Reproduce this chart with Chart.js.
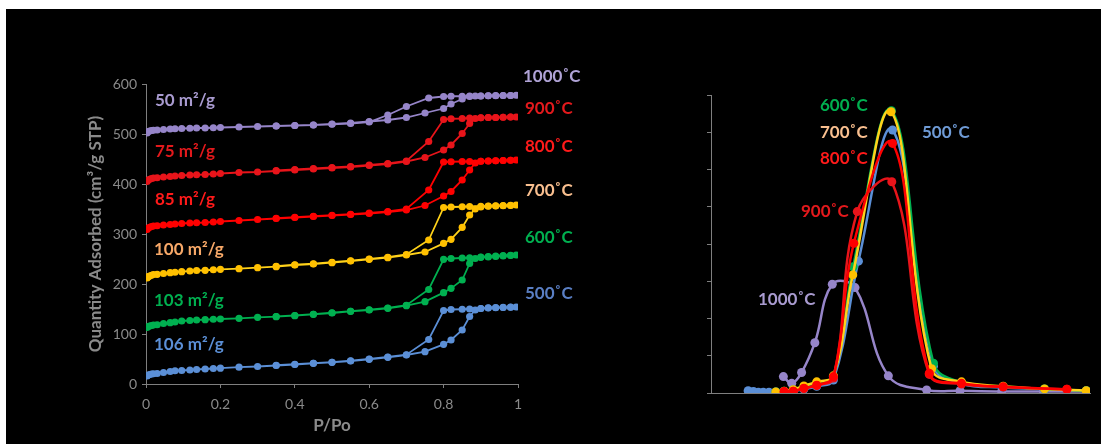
<!DOCTYPE html>
<html><head><meta charset="utf-8">
<script src="https://cdn.jsdelivr.net/npm/chart.js@4.4.1/dist/chart.umd.min.js"></script>
<style>
html,body{margin:0;padding:0;background:#fff;width:1102px;height:444px;overflow:hidden;position:relative;}
#bg{position:absolute;left:6px;top:9px;width:1095px;height:435px;background:#000;}
canvas{position:absolute;top:0;}
#c1{left:0;} #c2{left:600px;}
.lb{position:absolute;font-family:Lato,sans-serif;font-weight:bold;font-size:17px;line-height:20px;white-space:nowrap;}
</style></head>
<body>
<div id="bg"></div>
<canvas id="c1" width="600" height="444"></canvas>
<canvas id="c2" width="502" height="444"></canvas>

<div class="lb" style="left:155px;top:90px;color:#a99bd0">50 m²/g</div>
<div class="lb" style="left:155px;top:141px;color:#e3191c">75 m²/g</div>
<div class="lb" style="left:155px;top:189px;color:#ff1a1a">85 m²/g</div>
<div class="lb" style="left:154px;top:239px;color:#f7a868">100 m²/g</div>
<div class="lb" style="left:154px;top:290px;color:#00b050">103 m²/g</div>
<div class="lb" style="left:154px;top:334px;color:#5b8fd6">106 m²/g</div>

<div class="lb" style="left:523px;top:66px;color:#b0a3d6">1000˚C</div>
<div class="lb" style="left:525px;top:98px;color:#e3191c">900˚C</div>
<div class="lb" style="left:525px;top:136px;color:#ff1a1a">800˚C</div>
<div class="lb" style="left:525px;top:180px;color:#f9bf8f">700˚C</div>
<div class="lb" style="left:525px;top:227px;color:#00b050">600˚C</div>
<div class="lb" style="left:525px;top:283px;color:#5a7fc4">500˚C</div>

<div class="lb" style="left:820px;top:95px;color:#00b050">600˚C</div>
<div class="lb" style="left:820px;top:122px;color:#f9bf8f">700˚C</div>
<div class="lb" style="left:820px;top:148px;color:#ff1a1a">800˚C</div>
<div class="lb" style="left:922px;top:122px;color:#6f9bd6">500˚C</div>
<div class="lb" style="left:801px;top:201px;color:#e3191c">900˚C</div>
<div class="lb" style="left:758px;top:289px;color:#a99bd0">1000˚C</div>

<script>
// ---------- Isotherms (left) ----------
const P_ADS = [0.003, 0.006, 0.01, 0.015, 0.02, 0.03, 0.047, 0.065, 0.078, 0.096, 0.118, 0.136, 0.159, 0.181, 0.2, 0.25, 0.3, 0.35, 0.4, 0.45, 0.5, 0.55, 0.6, 0.65, 0.7, 0.75, 0.8, 0.82, 0.85, 0.87, 0.885, 0.9, 0.92, 0.94, 0.96, 0.98, 0.995];
const P_DES = [0.98, 0.96, 0.94, 0.92, 0.9, 0.87, 0.85, 0.82, 0.8, 0.76, 0.7, 0.65, 0.6, 0.55, 0.5, 0.45, 0.4, 0.35];

const Q_500_ADS = [16, 18, 19, 20, 20.5, 21, 23, 25, 26.5, 27, 28, 29, 30, 31, 31.7, 33.6, 35, 37, 39, 41.3, 43.3, 46, 49.3, 53.3, 58, 64.7, 79.3, 88, 108, 135, 148, 151, 152.5, 153, 153.3, 153.6, 154];
const Q_500_DES = [153.5, 153, 152.5, 152, 151, 150, 149.5, 149, 147, 89, 58.5, 54, 50, 46.5, 43.5, 41.5, 39.5, 37.5];
const Q_600_ADS = [113, 115, 116, 117, 118, 118.5, 121, 122.7, 124, 126, 127, 128, 128.7, 129.5, 130, 131.3, 133.3, 134.7, 136.7, 139.3, 142, 145.3, 148, 151.3, 156.7, 164.7, 182.7, 191.3, 208, 241, 251, 253.3, 254, 255, 256, 257, 258];
const Q_600_DES = [257.5, 257, 256, 255, 254, 252.5, 252, 251, 249.3, 189, 157.5, 152, 148.5, 145.5, 142.5, 139.5, 137, 135];
const Q_700_ADS = [212, 214.7, 216, 217.5, 219, 219.3, 221, 222.7, 223.5, 224.7, 226, 227, 227.3, 228.5, 229.3, 230.7, 232.7, 234.7, 238, 240, 242.7, 246, 249.3, 252.7, 258, 264, 281.3, 289.3, 313.3, 338, 350, 354, 355.5, 356, 356.5, 357, 358];
const Q_700_DES = [357.5, 357, 356.5, 356, 355.5, 355, 354.5, 354, 353, 288, 259, 253.5, 250, 246.5, 243.5, 240.5, 238.5, 235.5];
const Q_800_ADS = [309, 312, 313.5, 315, 316, 316.5, 318, 319, 320, 321, 322, 322.5, 323, 324, 325, 327, 329, 331, 333, 335, 337, 339, 341, 344, 348, 357, 376, 385, 408, 428, 442, 445.5, 446, 446.5, 447, 447.5, 448];
const Q_800_DES = [447.5, 447, 446.5, 446, 445.5, 445, 445, 444.5, 444, 388, 350, 345, 342, 339.5, 337.5, 335.5, 333.5, 331.5];
const Q_900_ADS = [405, 408, 409.5, 411, 412, 412.5, 414, 415, 416, 417, 418, 418.5, 419, 420, 421, 423, 424, 426, 428, 430, 432, 434, 437, 440, 445, 453, 468, 478, 501, 521, 531, 532.5, 533, 533, 533.5, 534, 534];
const Q_900_DES = [534, 533.5, 533, 533, 532.5, 532, 531, 530.5, 529, 485, 446, 441, 438, 435, 433, 431, 429, 427];
const Q_1000_ADS = [502, 505, 506, 507, 507.5, 508, 509, 510, 510.5, 511, 511.5, 512, 512, 512.5, 513, 514, 515, 516, 517, 518, 520, 522, 525, 528, 533, 542, 551, 560, 570, 575, 576, 576, 576.5, 577, 577, 577, 577.5];
const Q_1000_DES = [577, 577, 576.5, 576.5, 576, 576, 575.5, 575.5, 575, 572, 555, 538, 524, 521, 519.5, 518, 517, 516];

const X_TICKS = ['0', '0.2', '0.4', '0.6', '0.8', '1'];
const Y_TICKS = ['0', '100', '200', '300', '400', '500', '600'];

// ---------- Pore size distribution (right) ----------
const X_500 = [9.8, 11.2, 12.5, 13.8, 15.3, 17.1, 19.3, 21.7, 24.5, 27.9, 32.3, 38.9, 47.9, 58.7, 66.1, 77.1, 88.0, 99.0];
const Y_500 = [0.06, 0.04, 0.02, 0.02, 0.02, 0.03, 0.04, 0.05, 0.10, 0.18, 0.35, 3.54, 7.06, 0.72, 0.25, 0.15, 0.10, 0.06];
const X_600 = [17.1, 19.3, 21.7, 24.5, 27.9, 32.3, 37.5, 47.6, 58.7, 66.1, 77.1, 88.0, 99.0];
const Y_600 = [0.03, 0.05, 0.08, 0.17, 0.27, 0.45, 3.39, 7.58, 0.80, 0.28, 0.17, 0.11, 0.06];
const X_700 = [17.1, 19.3, 21.7, 24.5, 27.9, 32.3, 37.4, 47.5, 58.2, 66.1, 77.1, 88.0, 99.0];
const Y_700 = [0.03, 0.05, 0.09, 0.19, 0.30, 0.46, 3.17, 7.55, 0.65, 0.30, 0.18, 0.11, 0.06];
const X_800 = [19.3, 21.7, 24.5, 27.9, 32.3, 37.7, 47.9, 57.6, 66.1, 77.1, 93.9];
const Y_800 = [0.04, 0.05, 0.13, 0.21, 0.44, 4.02, 6.70, 0.53, 0.26, 0.17, 0.10];
const X_900 = [19.3, 21.7, 24.5, 27.9, 32.3, 38.6, 47.7, 57.6, 66.1, 77.1, 93.9];
const Y_900 = [0.04, 0.05, 0.12, 0.20, 0.40, 4.87, 5.67, 0.50, 0.24, 0.16, 0.10];
const X_1000 = [19.1, 21.3, 23.9, 27.4, 32.0, 38.0, 46.8, 56.9, 65.7, 76.7, 87.7, 99.1];
const Y_1000 = [0.44, 0.26, 0.55, 1.35, 2.92, 2.83, 0.46, 0.08, 0.06, 0.04, 0.04, 0.04];

// ---------- styles ----------
const COL = {
  c500: '#5b8fd6', c600: '#00b050', c700: '#ffc000', c700line: '#ffd21a',
  c800: '#ff0000', c900: '#e8141a', c1000: '#9685c9'
};
const AXIS_GRAY = '#7f7f7f';
const TEXT_GRAY = '#8a8a8a';

function loop(pa, qa, pd, qd) {
  return pa.map((p, i) => ({x: p, y: qa[i]})).concat(pd.map((p, i) => ({x: p, y: qd[i]})));
}
function xy(xs, ys) { return xs.map((x, i) => ({x: x, y: ys[i]})); }

function isoDs(data, color, line) {
  return {data, showLine: true, borderColor: line || color, backgroundColor: color,
    pointBackgroundColor: color, pointBorderColor: color, pointRadius: 3.6, pointBorderWidth: 0,
    borderWidth: 1.8, tension: 0};
}
function psdDs(data, color, line) {
  return {data, showLine: true, borderColor: line || color, backgroundColor: color,
    pointBackgroundColor: color, pointBorderColor: color, pointRadius: 4.5, pointBorderWidth: 0,
    borderWidth: 2.5, tension: 0.4, cubicInterpolationMode: 'default'};
}

Chart.defaults.font.family = 'Lato, sans-serif';

new Chart(document.getElementById('c1'), {
  type: 'scatter',
  data: {datasets: [
    isoDs(loop(P_ADS, Q_500_ADS, P_DES, Q_500_DES), COL.c500),
    isoDs(loop(P_ADS, Q_600_ADS, P_DES, Q_600_DES), COL.c600),
    isoDs(loop(P_ADS, Q_700_ADS, P_DES, Q_700_DES), COL.c700, COL.c700line),
    isoDs(loop(P_ADS, Q_800_ADS, P_DES, Q_800_DES), COL.c800),
    isoDs(loop(P_ADS, Q_900_ADS, P_DES, Q_900_DES), COL.c900),
    isoDs(loop(P_ADS, Q_1000_ADS, P_DES, Q_1000_DES), COL.c1000)
  ]},
  options: {
    responsive: false, animation: false, devicePixelRatio: 1,
    layout: {padding: {left: 0, right: 82, top: 84, bottom: 0}},
    plugins: {legend: {display: false}, tooltip: {enabled: false}},
    scales: {
      x: {type: 'linear', min: 0, max: 1,
        ticks: {stepSize: 0.2, color: TEXT_GRAY, font: {size: 14}, padding: 8, maxRotation: 0,
          callback: (v, i) => X_TICKS[i]},
        grid: {drawOnChartArea: false, drawTicks: true, tickLength: 4, color: AXIS_GRAY},
        border: {display: true, color: AXIS_GRAY, width: 1},
        title: {display: true, text: 'P/Po', color: TEXT_GRAY, font: {size: 17, weight: 'bold'}, padding: {top: 0, bottom: 8}},
        afterFit: s => { s.height = 60; }
      },
      y: {type: 'linear', min: 0, max: 600,
        ticks: {stepSize: 100, color: TEXT_GRAY, font: {size: 14}, padding: 5,
          callback: (v, i) => Y_TICKS[i]},
        grid: {drawOnChartArea: false, drawTicks: true, tickLength: 4, color: AXIS_GRAY},
        border: {display: true, color: AXIS_GRAY, width: 1},
        title: {display: true, text: 'Quantity Adsorbed (cm³/g STP)', color: TEXT_GRAY, font: {size: 17, weight: 'bold'}, padding: {top: 85, bottom: 0}},
        afterFit: s => { s.width = 146; }
      }
    }
  }
});

new Chart(document.getElementById('c2'), {
  type: 'scatter',
  data: {datasets: [
    psdDs(xy(X_800, Y_800), COL.c800),
    psdDs(xy(X_900, Y_900), COL.c900),
    psdDs(xy(X_700, Y_700), COL.c700, COL.c700line),
    psdDs(xy(X_600, Y_600), COL.c600),
    psdDs(xy(X_500, Y_500), COL.c500),
    psdDs(xy(X_1000, Y_1000), COL.c1000)
  ]},
  options: {
    responsive: false, animation: false, devicePixelRatio: 1,
    layout: {padding: {left: 0, right: 12, top: 95, bottom: 0}},
    plugins: {legend: {display: false}, tooltip: {enabled: false}},
    scales: {
      x: {type: 'linear', min: 0, max: 100,
        ticks: {display: false},
        grid: {display: false, drawOnChartArea: false, drawTicks: false},
        border: {display: true, color: AXIS_GRAY, width: 1},
        afterFit: s => { s.height = 51; }
      },
      y: {type: 'linear', min: 0, max: 8,
        ticks: {display: false, stepSize: 1},
        grid: {drawOnChartArea: false, drawTicks: true, tickLength: 4, color: AXIS_GRAY},
        border: {display: true, color: AXIS_GRAY, width: 1},
        afterFit: s => { s.width = 111; }
      }
    }
  }
});
</script>
</body></html>
